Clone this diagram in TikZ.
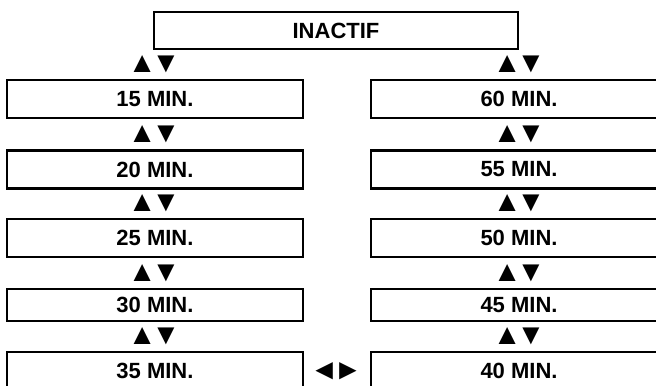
\documentclass[tikz,border=0pt]{standalone}
\usepackage{fontspec}
\setmainfont{Liberation Sans}
\usepackage{tikz}

\begin{document}
\begin{tikzpicture}[x=0.5pt, y=-0.5pt, every node/.style={font=\fontsize{11}{13}\selectfont\bfseries}]
  \tikzstyle{box} = [draw, line width=1.2pt, minimum width=148pt, minimum height=19pt, inner sep=0pt]
  \tikzstyle{arr} = [inner sep=0pt, font=\fontsize{14.5}{16}\selectfont]
  \useasboundingbox (0, 0) rectangle (656, 385);
  \clip (0, 0) rectangle (656, 385);
  \node[box, minimum width=182pt, minimum height=18.5pt] (inactif) at (336, 30.5) {INACTIF};
  \node[box] (m15) at (155, 99) {15 MIN.};
  \node[box] (m20) at (155, 169.5) {20 MIN.};
  \node[box] (m25) at (155, 238) {25 MIN.};
  \node[box, minimum height=16pt] (m30) at (155, 305) {30 MIN.};
  \node[box] (m35) at (155, 371) {35 MIN.};
  \node[box] (m60) at (519, 99) {60 MIN.};
  \node[box] (m55) at (519, 169.5) {55 MIN.};
  \node[box] (m50) at (519, 238) {50 MIN.};
  \node[box, minimum height=16pt] (m45) at (519, 305) {45 MIN.};
  \node[box] (m40) at (519, 371) {40 MIN.};
  \node[arr] (ud0l) at (154, 64.5) {▲\kern-2.5pt▼};
  \node[arr] (ud0r) at (519, 64.5) {▲\kern-2.5pt▼};
  \node[arr] (ud1l) at (154, 134.5) {▲\kern-2.5pt▼};
  \node[arr] (ud1r) at (519, 134.5) {▲\kern-2.5pt▼};
  \node[arr] (ud2l) at (154, 203.5) {▲\kern-2.5pt▼};
  \node[arr] (ud2r) at (519, 203.5) {▲\kern-2.5pt▼};
  \node[arr] (ud3l) at (154, 273) {▲\kern-2.5pt▼};
  \node[arr] (ud3r) at (519, 273) {▲\kern-2.5pt▼};
  \node[arr] (ud4l) at (154, 336.5) {▲\kern-2.5pt▼};
  \node[arr] (ud4r) at (519, 336.5) {▲\kern-2.5pt▼};
  \node[arr] (lr) at (336, 371) {◄\kern-2.5pt►};
\end{tikzpicture}
\end{document}
